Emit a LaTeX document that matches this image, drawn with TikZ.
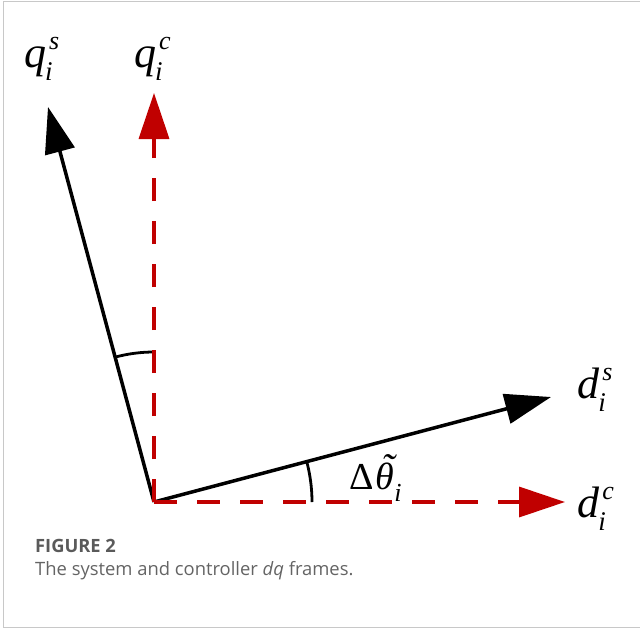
\documentclass[tikz,border=0pt]{standalone}
\usepackage{fontspec}
\setmainfont{Liberation Serif}
\newfontfamily\capfont{Open Sans}
\usetikzlibrary{arrows.meta}
\definecolor{dred}{RGB}{192,0,0}
\definecolor{capgray}{RGB}{100,100,100}
\definecolor{figgray}{RGB}{90,90,90}
\definecolor{framegray}{RGB}{200,200,200}
\newcommand\axlab[2]{\fontsize{44}{44}\selectfont\textit{#1}\rlap{\kern3pt\raisebox{18pt}{\fontsize{26}{26}\selectfont\textit{#2}}}\kern-1pt\raisebox{-13pt}{\fontsize{27}{27}\selectfont\textit{i}}}
\newcommand\dtheta{\fontsize{38}{38}\selectfont\textup{Δ}\kern2pt\makebox[0pt][l]{\kern6pt\raisebox{8pt}{\fontsize{40}{40}\selectfont\textit{\char"02DC}}}\textit{θ}\raisebox{-12pt}{\fontsize{26}{26}\selectfont\textit{i}}}
\tikzset{
  axis/.style={line width=3.5pt, -{Triangle[length=46pt,width=30pt]}},
  daxis/.style={line width=3.5pt, dred, dash pattern=on 23pt off 20pt, -{Triangle[length=46pt,width=30pt]}},
  anglearc/.style={line width=2.8pt},
  lbl/.style={anchor=base west, inner sep=0pt},
  captext/.style={anchor=base west, inner sep=0pt}
}
\begin{document}
\begin{tikzpicture}[x=1pt,y=-1pt]
\useasboundingbox (0,0) rectangle (640,630);
\draw[framegray, line width=1pt] (640,1) -- (3.5,1) -- (3.5,627) -- (640,627);
\coordinate (O) at (154,502);
\coordinate (qs) at (48,107);
\coordinate (ds) at (551,397);
\coordinate (qc) at (154,93);
\coordinate (dc) at (565,502);
\draw[axis] (O) -- (qs);
\draw[axis] (O) -- (ds);
\draw[anglearc] ([shift={(-90:150)}]O) arc[start angle=-90, end angle=-105, radius=150];
\draw[anglearc] ([shift={(0:158)}]O) arc[start angle=0, end angle=-14.8, radius=158];
\draw[daxis] (O) -- (qc);
\draw[daxis] (O) -- (dc);
\node[lbl] (lqs) at (24,67) {\axlab{q}{s}};
\node[lbl] (lqc) at (134,67) {\axlab{q}{c}};
\node[lbl] (lds) at (577,398) {\axlab{d}{s}};
\node[lbl] (ldc) at (577,517) {\axlab{d}{c}};
\node[lbl] (lth) at (349,489) {\dtheta};
\node[captext, text=figgray, font=\capfont\bfseries\fontsize{18.3}{18.3}\selectfont] (fig) at (35,552) {FIGURE 2};
\node[captext, text=capgray, font=\capfont\fontsize{18.4}{18.4}\selectfont] (cap) at (35,575) {The system and controller \textit{dq} frames.};
\end{tikzpicture}
\end{document}
